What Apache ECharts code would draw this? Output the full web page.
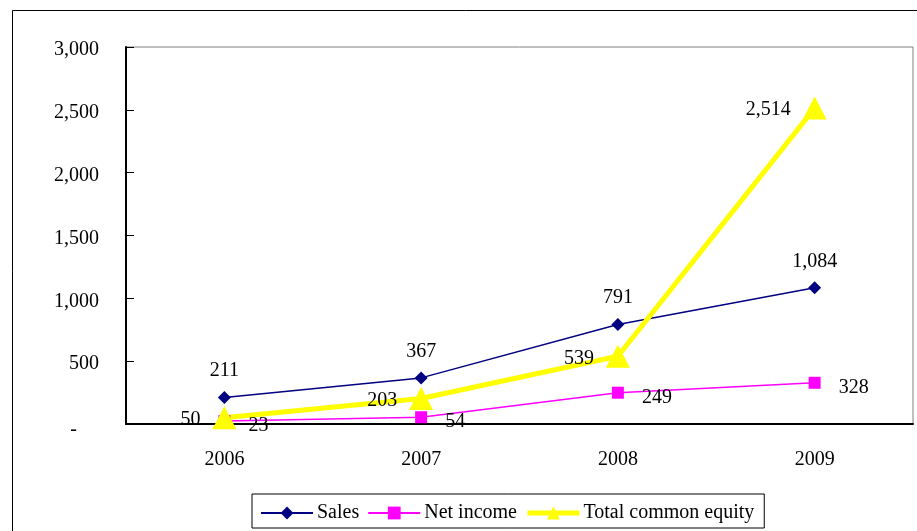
<!DOCTYPE html>
<html><head><meta charset="utf-8">
<script src="https://cdn.jsdelivr.net/npm/echarts@6/dist/echarts.min.js"></script>
<style>html,body{margin:0;padding:0;background:#fff}#c{width:917px;height:531px}</style>
</head><body><div id="c"></div>
<script>
const categories = ['2006', '2007', '2008', '2009'];
const sales = [211, 367, 791, 1084];
const netIncome = [23, 54, 249, 328];
const equity = [50, 203, 539, 2514];
const seriesNames = ['Sales', 'Net income', 'Total common equity'];

const FONT = '"Liberation Serif", "DejaVu Serif", serif';
const FS = 20;
const fmt = v => Number(v).toLocaleString('en-US');
const chart = echarts.init(document.getElementById('c'));
chart.setOption({
  animation: false,
  backgroundColor: '#fff',
  textStyle: { fontFamily: FONT },
  graphic: [{
    type: 'polyline', silent: true,
    shape: { points: [[12.5, 600], [12.5, 10.5], [930, 10.5]] },
    style: { stroke: '#000', lineWidth: 1, fill: null }
  }],
  grid: { left: 126, right: 4, top: 47, bottom: 107, show: true, borderColor: '#808080', borderWidth: 1, backgroundColor: 'transparent' },
  legend: {
    left: 252, top: 494, padding: [9, 10, 5, 8], itemGap: 8,
    itemWidth: 52, itemHeight: 16,
    borderColor: '#000', borderWidth: 1,
    textStyle: { fontFamily: FONT, fontSize: FS, color: '#000', padding: [0, 0, 0, -1] },
    data: [
      { name: seriesNames[0] },
      { name: seriesNames[1] },
      { name: seriesNames[2], lineStyle: { width: 5, color: '#FFFF00' } }
    ]
  },
  xAxis: {
    type: 'category', data: categories, boundaryGap: true,
    axisLine: { lineStyle: { color: '#000', width: 2 } },
    axisTick: { inside: true, length: 8, lineStyle: { color: '#000', width: 1 } },
    axisLabel: { margin: 26, fontSize: FS, color: '#000', fontFamily: FONT },
    splitLine: { show: false }
  },
  yAxis: {
    type: 'value', min: 0, max: 3000, interval: 500,
    axisLine: { show: true, lineStyle: { color: '#000', width: 2 } },
    axisTick: { show: true, inside: true, length: 8, lineStyle: { color: '#000', width: 1 } },
    axisLabel: {
      margin: 27, fontSize: FS, color: '#000', fontFamily: FONT,
      padding: [6, 0, 0, 0],
      formatter: v => v === 0 ? '{d|-}' : fmt(v),
      rich: { d: { fontSize: FS, fontFamily: FONT, color: '#000', padding: [6, 22, 0, 0] } }
    },
    splitLine: { show: false }
  },
  series: [
    {
      name: seriesNames[0], type: 'line', data: sales,
      symbol: 'diamond', symbolSize: 13,
      lineStyle: { color: '#000080', width: 1.5 },
      itemStyle: { color: '#000080' },
      label: { show: true, position: 'top', distance: 10, fontSize: FS, color: '#000', fontFamily: FONT, formatter: p => fmt(p.value) }
    },
    {
      name: seriesNames[1], type: 'line', data: netIncome,
      symbol: 'rect', symbolSize: 12,
      lineStyle: { color: '#FF00FF', width: 1.5 },
      itemStyle: { color: '#FF00FF' },
      label: { show: true, position: 'right', distance: 18, offset: [0, 5], fontSize: FS, color: '#000', fontFamily: FONT, formatter: p => fmt(p.value) }
    },
    {
      name: seriesNames[2], type: 'line', data: equity,
      symbol: 'triangle', symbolSize: [24, 23],
      lineStyle: { color: '#FFFF00', width: 5 },
      itemStyle: { color: '#FFFF00' },
      label: { show: true, position: 'left', distance: 12, offset: [0, 2], fontSize: FS, color: '#000', fontFamily: FONT, formatter: p => fmt(p.value) }
    }
  ]
});
</script></body></html>
